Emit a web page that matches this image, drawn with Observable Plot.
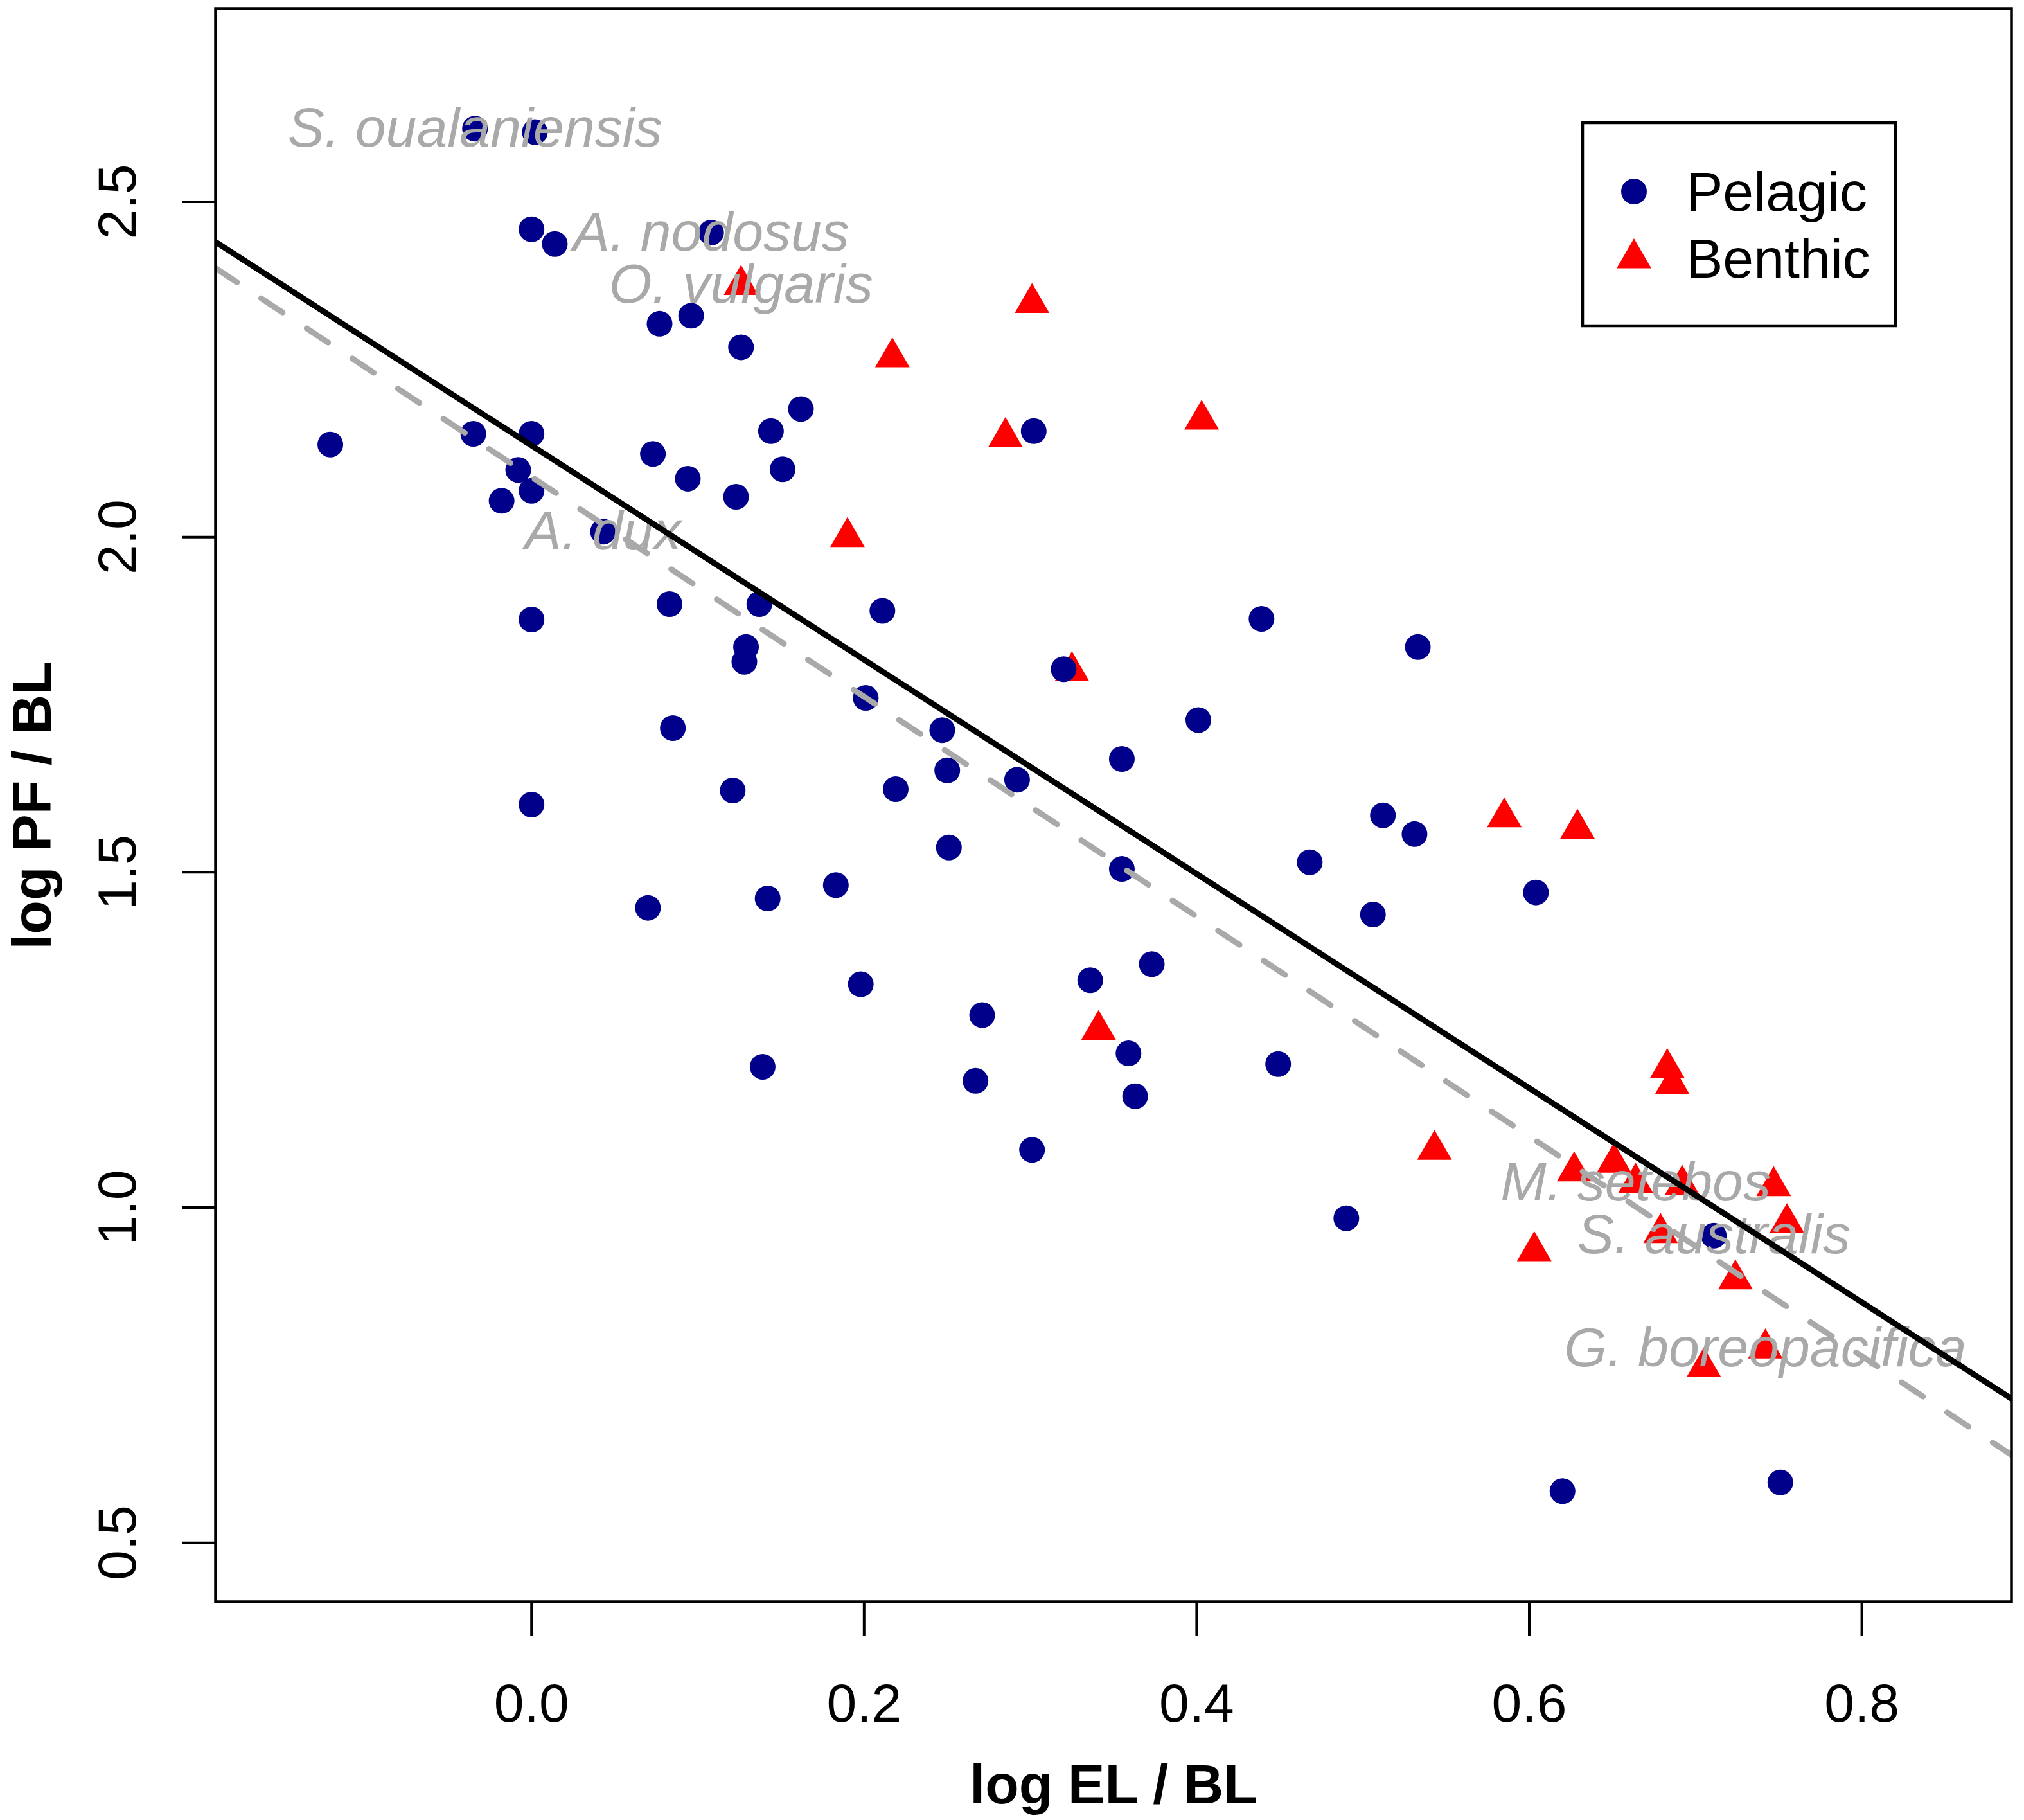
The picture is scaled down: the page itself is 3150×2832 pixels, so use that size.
<!DOCTYPE html>
<html>
<head>
<meta charset="utf-8">
<script src="https://cdn.jsdelivr.net/npm/d3@7"></script>
<script src="https://cdn.jsdelivr.net/npm/@observablehq/plot@0.6"></script>
<style>
  html, body { margin: 0; padding: 0; background: #fff; }
  #wrap { position: relative; width: 3150px; height: 2832px; font-family: "Liberation Sans", Arial, sans-serif; }
  #wrap svg.overlay { position: absolute; left: 0; top: 0; pointer-events: none; }
</style>
</head>
<body>
<div id="wrap"></div>
<script>
// ---- data ----
const groups = ["Pelagic", "Benthic"];
const groupColors = ["#00008B", "#FF0000"];

const pelagicX = [-0.034, 0.002, 0.000, 0.014, 0.108, 0.077, 0.096, 0.126, -0.121, -0.035,
  0.000, 0.144, 0.162, -0.008, 0.073, 0.151, -0.018, 0.000, 0.094, 0.123,
  0.043, 0.302, 0.137, 0.083, 0.211, 0.000, 0.129, 0.128, 0.320, 0.201,
  0.085, 0.247, 0.401, 0.439, 0.533, 0.355, 0.250, 0.292, 0.121, 0.219,
  0.000, 0.512, 0.531, 0.468, 0.355, 0.251, 0.604, 0.506, 0.183, 0.070,
  0.142, 0.373, 0.336, 0.198, 0.271, 0.359, 0.449, 0.139, 0.267, 0.363,
  0.301, 0.490, 0.711, 0.620, 0.751];
const pelagicY = [2.609, 2.604, 2.459, 2.437, 2.454, 2.318, 2.330, 2.283, 2.138, 2.154,
  2.154, 2.158, 2.191, 2.100, 2.124, 2.101, 2.054, 2.069, 2.087, 2.060,
  2.008, 2.158, 1.900, 1.900, 1.890, 1.877, 1.836, 1.814, 1.803, 1.760,
  1.715, 1.712, 1.727, 1.878, 1.836, 1.669, 1.652, 1.638, 1.622, 1.624,
  1.601, 1.585, 1.557, 1.515, 1.505, 1.537, 1.470, 1.437, 1.481, 1.447,
  1.461, 1.363, 1.339, 1.333, 1.287, 1.230, 1.214, 1.210, 1.189, 1.166,
  1.086, 0.984, 0.958, 0.577, 0.590];

const benthicX = [0.126, 0.301, 0.217, 0.403, 0.285, 0.190, 0.325, 0.341, 0.585, 0.629,
  0.543, 0.683, 0.686, 0.627, 0.651, 0.664, 0.692, 0.747, 0.755, 0.679,
  0.603, 0.724, 0.742, 0.705];
const benthicY = [2.376, 2.349, 2.268, 2.175, 2.149, 2.000, 1.800, 1.265, 1.582, 1.565,
  1.086, 1.208, 1.184, 1.054, 1.067, 1.037, 1.034, 1.032, 0.977, 0.962,
  0.935, 0.893, 0.790, 0.762];

const labelText = ["S. oualaniensis", "A. nodosus", "O. vulgaris", "A. dux",
  "M. setebos", "S. australis", "G. boreopacifica"];
const labelX = [-0.034, 0.108, 0.126, 0.043, 0.664, 0.711, 0.742];
const labelY = [2.609, 2.454, 2.376, 2.008, 1.037, 0.958, 0.790];

// regression lines (endpoints at the plot edges)
const fitX = [-0.19, 0.89];
const fitSolidY = [2.440, 0.715];
const fitDashedY = [2.401, 0.631];

const xTicks = [0.0, 0.2, 0.4, 0.6, 0.8];
const yTicks = [0.5, 1.0, 1.5, 2.0, 2.5];
const xTitle = "log EL / BL";
const yTitle = "log PF / BL";

// ---- build tables ----
const benthic = benthicX.map((x, i) => ({x, y: benthicY[i], group: "Benthic"}));
const pelagic = pelagicX.map((x, i) => ({x, y: pelagicY[i], group: "Pelagic"}));
const labels = labelText.map((t, i) => ({t, x: labelX[i], y: labelY[i]}));
const solid = fitX.map((x, i) => ({x, y: fitSolidY[i]}));
const dashed = fitX.map((x, i) => ({x, y: fitDashedY[i]}));

const FONT = "'Liberation Sans', Arial, sans-serif";
const gray = "#A9A9A9";

const chart = Plot.plot({
  width: 3150,
  height: 2832,
  marginLeft: 335,
  marginRight: 20,
  marginTop: 13,
  marginBottom: 340,
  x: {domain: [-0.19, 0.89]},
  y: {domain: [0.412, 2.788]},
  symbol: {domain: groups, range: ["circle", "triangle"]},
  color: {domain: groups, range: groupColors},
  style: {fontFamily: FONT, fontSize: "84px", background: "white", color: "black"},
  marks: [
    Plot.dot(benthic, {x: "x", y: "y", r: 20, symbol: "group", fill: "group", stroke: null}),
    Plot.dot(pelagic, {x: "x", y: "y", r: 20, symbol: "group", fill: "group", stroke: null}),
    Plot.text(labels, {x: "x", y: "y", text: "t", fill: gray, fontStyle: "italic", fontSize: 86,
      textAnchor: "middle", lineAnchor: "middle"}),
    Plot.line(dashed, {x: "x", y: "y", stroke: gray, strokeWidth: 9, strokeDasharray: "40,45",
      strokeLinecap: "round", clip: true}),
    Plot.line(solid, {x: "x", y: "y", stroke: "black", strokeWidth: 9, strokeLinecap: "round", clip: true}),
    Plot.axisX(xTicks, {tickSize: 54, tickFormat: () => "", label: null, strokeWidth: 4}),
    Plot.axisY(yTicks, {tickSize: 52, tickFormat: () => "", label: null, strokeWidth: 4}),
    Plot.text(xTicks, {x: d => d, text: d => d.toFixed(1), frameAnchor: "bottom", dy: 160,
      fontSize: 84, lineAnchor: "middle", fill: "black"}),
    Plot.text(yTicks, {y: d => d, text: d => d.toFixed(1), frameAnchor: "left", dx: -151,
      rotate: -90, fontSize: 84, lineAnchor: "middle", textAnchor: "middle", fill: "black"}),
    Plot.text([xTitle], {text: d => d, frameAnchor: "bottom", dy: 286, fontSize: 86,
      fontWeight: "bold", lineAnchor: "middle", fill: "black"}),
    Plot.text([yTitle], {text: d => d, frameAnchor: "left", dx: -284, rotate: -90, fontSize: 86,
      fontWeight: "bold", lineAnchor: "middle", textAnchor: "middle", fill: "black"}),
    Plot.frame({stroke: "black", strokeWidth: 4.5})
  ]
});

const wrap = document.getElementById("wrap");
wrap.appendChild(chart);

// ---- legend (boxed, inside the plot, top right) ----
const leg = d3.select(wrap).append("svg")
  .attr("class", "overlay")
  .attr("width", 3150).attr("height", 2832);
const lg = leg.append("g").attr("transform", "translate(2463,191)");
lg.append("rect").attr("x", 0).attr("y", 0).attr("width", 487).attr("height", 316)
  .attr("fill", "white").attr("stroke", "black").attr("stroke-width", 4.5);
const legSymbols = [d3.symbolCircle, d3.symbolTriangle];
groups.forEach((g, i) => {
  const row = lg.append("g").attr("transform", `translate(80,${107 + i * 104})`);
  row.append("path")
    .attr("d", d3.symbol(legSymbols[i], Math.PI * 20 * 20)())
    .attr("fill", groupColors[i]);
  row.append("text")
    .attr("x", 81).attr("y", 0).attr("dy", "0.35em")
    .attr("font-family", FONT).attr("font-size", 86).attr("fill", "black")
    .text(g);
});
</script>
</body>
</html>
